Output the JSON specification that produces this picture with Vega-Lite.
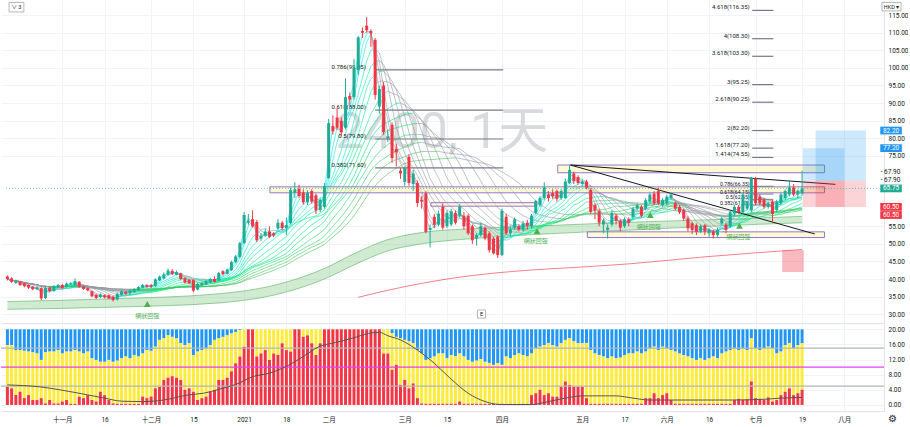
{
"$schema":"https://vega.github.io/schema/vega-lite/v6.json",
"padding":0,
"background":"#ffffff",
"spacing":1,
"bounds":"flush",
"config":{"view":{"stroke":null},"font":"Roboto, Noto Sans CJK TC, sans-serif","axis":{"labelFont":"Roboto, Noto Sans CJK TC, sans-serif","labelFontSize":6.5,"labelColor":"#131722","gridColor":"#f0f3fa","domainColor":"#e0e3eb","ticks":false}},
"datasets":{
"candles":[
{"i":0,"o":40.7,"h":41.0,"l":39.6,"c":40.0,"r":4.8,"b":15.8},
{"i":1,"o":40.2,"h":40.5,"l":38.9,"c":39.2,"r":4.4,"b":15.8},
{"i":2,"o":38.9,"h":39.8,"l":38.6,"c":39.4,"r":2.6,"b":14.5},
{"i":3,"o":39.2,"h":39.5,"l":38.0,"c":38.3,"r":3.5,"b":14.5},
{"i":4,"o":38.8,"h":39.0,"l":37.6,"c":38.0,"r":1.8,"b":14.3},
{"i":5,"o":38.3,"h":38.5,"l":37.2,"c":37.6,"r":2.6,"b":14.1},
{"i":6,"o":37.8,"h":38.0,"l":36.8,"c":37.1,"r":1.3,"b":13.9},
{"i":7,"o":37.1,"h":37.9,"l":36.8,"c":37.6,"r":1.3,"b":13.6},
{"i":8,"o":37.4,"h":37.6,"l":34.0,"c":34.5,"r":1.8,"b":11.9},
{"i":9,"o":34.6,"h":37.8,"l":34.3,"c":37.5,"r":0.4,"b":13.9},
{"i":10,"o":37.5,"h":37.8,"l":36.3,"c":36.6,"r":1.3,"b":14.1},
{"i":11,"o":36.6,"h":38.3,"l":36.4,"c":38.0,"r":0.4,"b":14.1},
{"i":12,"o":37.6,"h":38.6,"l":37.4,"c":38.3,"r":0.4,"b":14.5},
{"i":13,"o":38.3,"h":38.6,"l":37.2,"c":37.5,"r":0.9,"b":13.6},
{"i":14,"o":37.8,"h":39.0,"l":37.6,"c":38.7,"r":1.3,"b":14.1},
{"i":15,"o":38.5,"h":39.1,"l":38.3,"c":38.8,"r":0.3,"b":14.1},
{"i":16,"o":38.2,"h":40.2,"l":38.0,"c":39.4,"r":0.3,"b":14.5},
{"i":17,"o":39.2,"h":39.4,"l":37.5,"c":37.8,"r":2.2,"b":14.1},
{"i":18,"o":37.9,"h":38.1,"l":36.9,"c":37.2,"r":1.8,"b":13.6},
{"i":19,"o":37.4,"h":37.6,"l":36.5,"c":36.8,"r":2.6,"b":14.1},
{"i":20,"o":36.5,"h":36.7,"l":34.8,"c":35.1,"r":1.3,"b":12.3},
{"i":21,"o":35.5,"h":35.7,"l":34.3,"c":34.6,"r":0.9,"b":11.9},
{"i":22,"o":34.9,"h":35.9,"l":34.6,"c":35.6,"r":3.5,"b":11.4},
{"i":23,"o":35.4,"h":35.6,"l":34.5,"c":34.8,"r":2.6,"b":11.4},
{"i":24,"o":35.4,"h":35.6,"l":34.2,"c":34.5,"r":1.3,"b":11.9},
{"i":25,"o":35.0,"h":35.2,"l":33.6,"c":34.0,"r":0.4,"b":11.4},
{"i":26,"o":34.2,"h":36.0,"l":33.9,"c":35.8,"r":0.3,"b":11.7},
{"i":27,"o":35.5,"h":36.8,"l":35.3,"c":36.5,"r":0.3,"b":12.3},
{"i":28,"o":36.4,"h":36.6,"l":35.5,"c":35.8,"r":0.3,"b":12.8},
{"i":29,"o":35.9,"h":37.0,"l":35.7,"c":36.7,"r":0.3,"b":12.3},
{"i":30,"o":36.3,"h":37.4,"l":36.1,"c":37.1,"r":0.3,"b":13.2},
{"i":31,"o":36.8,"h":38.0,"l":36.6,"c":37.7,"r":0.3,"b":12.8},
{"i":32,"o":37.5,"h":38.6,"l":37.3,"c":38.3,"r":2.2,"b":13.6},
{"i":33,"o":38.3,"h":38.5,"l":37.5,"c":37.8,"r":1.8,"b":14.5},
{"i":34,"o":38.3,"h":38.6,"l":37.5,"c":37.8,"r":2.2,"b":14.3},
{"i":35,"o":38.0,"h":40.2,"l":37.8,"c":39.9,"r":4.4,"b":15.4},
{"i":36,"o":39.6,"h":41.0,"l":39.4,"c":40.7,"r":4.8,"b":17.2},
{"i":37,"o":40.2,"h":41.9,"l":40.0,"c":41.3,"r":6.6,"b":17.6},
{"i":38,"o":41.2,"h":43.0,"l":41.0,"c":42.4,"r":7.2,"b":18.4},
{"i":39,"o":42.3,"h":42.8,"l":41.1,"c":41.4,"r":7.6,"b":18.0},
{"i":40,"o":41.2,"h":42.4,"l":41.0,"c":42.0,"r":7.2,"b":17.6},
{"i":41,"o":41.6,"h":41.8,"l":39.7,"c":40.0,"r":6.6,"b":16.3},
{"i":42,"o":40.2,"h":40.5,"l":38.7,"c":39.0,"r":4.0,"b":15.8},
{"i":43,"o":39.8,"h":40.0,"l":38.5,"c":38.8,"r":4.4,"b":16.3},
{"i":44,"o":39.7,"h":40.0,"l":36.2,"c":36.7,"r":3.5,"b":13.2},
{"i":45,"o":37.0,"h":38.9,"l":36.8,"c":38.6,"r":1.3,"b":14.1},
{"i":46,"o":38.3,"h":39.2,"l":38.0,"c":38.9,"r":1.8,"b":14.5},
{"i":47,"o":38.5,"h":39.7,"l":38.3,"c":39.4,"r":2.2,"b":15.0},
{"i":48,"o":39.0,"h":40.3,"l":38.8,"c":40.0,"r":3.5,"b":15.8},
{"i":49,"o":40.0,"h":40.8,"l":39.0,"c":39.2,"r":4.0,"b":17.2},
{"i":50,"o":39.6,"h":42.0,"l":39.4,"c":41.7,"r":6.6,"b":17.6},
{"i":51,"o":42.2,"h":42.5,"l":41.0,"c":41.4,"r":6.6,"b":18.0},
{"i":52,"o":41.5,"h":43.0,"l":41.3,"c":42.7,"r":7.2,"b":18.4},
{"i":53,"o":42.5,"h":45.2,"l":42.3,"c":44.8,"r":8.9,"b":18.9},
{"i":54,"o":44.8,"h":46.8,"l":44.5,"c":46.4,"r":11.0,"b":19.3},
{"i":55,"o":46.3,"h":50.6,"l":46.0,"c":50.2,"r":12.8,"b":19.8},
{"i":56,"o":50.2,"h":59.0,"l":50.0,"c":58.2,"r":15.4,"b":20},
{"i":57,"o":56.0,"h":58.5,"l":55.4,"c":56.6,"r":20,"b":20},
{"i":58,"o":57.0,"h":59.5,"l":54.6,"c":55.0,"r":20,"b":20},
{"i":59,"o":56.2,"h":56.8,"l":50.5,"c":51.0,"r":12.8,"b":20},
{"i":60,"o":51.5,"h":53.0,"l":50.8,"c":52.3,"r":13.6,"b":20},
{"i":61,"o":52.3,"h":54.2,"l":52.0,"c":53.5,"r":14.5,"b":20},
{"i":62,"o":53.5,"h":55.0,"l":51.6,"c":52.0,"r":11.9,"b":20},
{"i":63,"o":53.0,"h":53.3,"l":51.9,"c":52.4,"r":13.6,"b":20},
{"i":64,"o":54.4,"h":57.0,"l":54.0,"c":56.0,"r":13.2,"b":20},
{"i":65,"o":56.0,"h":56.5,"l":53.8,"c":54.5,"r":16.3,"b":20},
{"i":66,"o":54.5,"h":57.5,"l":52.5,"c":55.3,"r":14.5,"b":20},
{"i":67,"o":55.9,"h":66.0,"l":55.5,"c":65.3,"r":14.1,"b":20},
{"i":68,"o":64.5,"h":67.5,"l":63.0,"c":65.5,"r":20,"b":20},
{"i":69,"o":65.6,"h":66.8,"l":63.0,"c":63.6,"r":20,"b":20},
{"i":70,"o":64.6,"h":65.5,"l":61.2,"c":61.8,"r":18.0,"b":20},
{"i":71,"o":61.8,"h":65.2,"l":61.0,"c":64.5,"r":18.4,"b":20},
{"i":72,"o":65.0,"h":65.5,"l":61.5,"c":62.0,"r":16.3,"b":20},
{"i":73,"o":63.8,"h":64.3,"l":58.5,"c":59.5,"r":13.2,"b":20},
{"i":74,"o":59.6,"h":63.0,"l":59.0,"c":62.5,"r":16.3,"b":20},
{"i":75,"o":60.5,"h":67.3,"l":60.0,"c":66.4,"r":20,"b":20},
{"i":76,"o":68.7,"h":85.5,"l":68.5,"c":84.3,"r":20,"b":20},
{"i":77,"o":83.5,"h":86.5,"l":81.0,"c":82.0,"r":20,"b":20},
{"i":78,"o":85.9,"h":88.5,"l":82.5,"c":83.0,"r":20,"b":20},
{"i":79,"o":85.0,"h":86.0,"l":80.5,"c":81.7,"r":20,"b":20},
{"i":80,"o":83.0,"h":97.0,"l":82.5,"c":91.7,"r":20,"b":20},
{"i":81,"o":92.0,"h":93.0,"l":89.5,"c":91.0,"r":20,"b":20},
{"i":82,"o":91.7,"h":102.5,"l":91.0,"c":100.0,"r":20,"b":20},
{"i":83,"o":99.4,"h":109.0,"l":98.0,"c":108.7,"r":20,"b":20},
{"i":84,"o":110.5,"h":111.5,"l":108.5,"c":110.0,"r":20,"b":20},
{"i":85,"o":112.0,"h":114.4,"l":110.0,"c":110.7,"r":20,"b":20},
{"i":86,"o":110.5,"h":111.0,"l":106.0,"c":109.8,"r":20,"b":20},
{"i":87,"o":108.0,"h":108.5,"l":91.0,"c":92.3,"r":20,"b":20},
{"i":88,"o":89.0,"h":95.0,"l":87.0,"c":94.0,"r":20,"b":20},
{"i":89,"o":95.0,"h":96.0,"l":81.0,"c":81.8,"r":13.6,"b":20},
{"i":90,"o":80.0,"h":82.5,"l":79.0,"c":80.5,"r":13.6,"b":20},
{"i":91,"o":83.8,"h":84.5,"l":73.0,"c":74.4,"r":9.3,"b":19.0},
{"i":92,"o":77.0,"h":78.5,"l":72.0,"c":76.0,"r":10.6,"b":18.0},
{"i":93,"o":70.8,"h":71.5,"l":68.5,"c":70.0,"r":5.3,"b":17.6},
{"i":94,"o":67.6,"h":72.0,"l":66.5,"c":71.5,"r":6.6,"b":17.2},
{"i":95,"o":74.7,"h":75.5,"l":66.5,"c":67.3,"r":4.4,"b":16.8},
{"i":96,"o":67.0,"h":71.0,"l":65.0,"c":70.0,"r":5.7,"b":16.3},
{"i":97,"o":67.3,"h":68.0,"l":60.5,"c":61.6,"r":1.8,"b":14.5},
{"i":98,"o":62.5,"h":63.5,"l":60.0,"c":62.0,"r":0.4,"b":13.6},
{"i":99,"o":64.4,"h":65.0,"l":53.0,"c":53.4,"r":0.3,"b":11.9},
{"i":100,"o":54.0,"h":55.5,"l":49.0,"c":54.5,"r":0.3,"b":12.3},
{"i":101,"o":57.7,"h":58.5,"l":54.5,"c":55.4,"r":0.3,"b":12.8},
{"i":102,"o":55.5,"h":59.5,"l":55.0,"c":58.6,"r":0.3,"b":13.6},
{"i":103,"o":60.5,"h":61.5,"l":54.0,"c":54.6,"r":0.3,"b":13.6},
{"i":104,"o":55.0,"h":59.5,"l":54.5,"c":58.8,"r":0.3,"b":12.3},
{"i":105,"o":55.5,"h":60.0,"l":55.0,"c":59.3,"r":0.3,"b":13.2},
{"i":106,"o":58.8,"h":59.5,"l":55.5,"c":56.0,"r":0.3,"b":12.9},
{"i":107,"o":58.0,"h":61.3,"l":57.5,"c":60.6,"r":0.9,"b":13.6},
{"i":108,"o":58.0,"h":59.0,"l":54.0,"c":55.0,"r":0.3,"b":12.8},
{"i":109,"o":58.0,"h":58.5,"l":52.5,"c":53.0,"r":0.3,"b":11.9},
{"i":110,"o":55.0,"h":55.5,"l":50.0,"c":51.0,"r":0.3,"b":11.4},
{"i":111,"o":51.5,"h":53.0,"l":49.5,"c":52.5,"r":0.3,"b":11.7},
{"i":112,"o":52.5,"h":56.0,"l":52.0,"c":55.0,"r":0.3,"b":12.1},
{"i":113,"o":54.6,"h":55.0,"l":51.0,"c":51.5,"r":0.3,"b":11.4},
{"i":114,"o":53.0,"h":53.5,"l":47.5,"c":48.2,"r":0.3,"b":11.1},
{"i":115,"o":51.5,"h":52.0,"l":47.0,"c":47.3,"r":0.3,"b":10.6},
{"i":116,"o":52.0,"h":52.5,"l":46.0,"c":46.8,"r":0.3,"b":11.0},
{"i":117,"o":46.8,"h":60.0,"l":46.5,"c":59.4,"r":0.3,"b":10.6},
{"i":118,"o":57.7,"h":58.5,"l":52.5,"c":53.0,"r":0.3,"b":12.8},
{"i":119,"o":53.0,"h":55.0,"l":52.0,"c":54.0,"r":0.3,"b":12.3},
{"i":120,"o":54.6,"h":57.5,"l":54.0,"c":57.0,"r":0.3,"b":13.2},
{"i":121,"o":55.0,"h":55.5,"l":53.5,"c":54.0,"r":0.3,"b":13.6},
{"i":122,"o":54.0,"h":56.5,"l":53.5,"c":55.8,"r":0.3,"b":13.2},
{"i":123,"o":56.0,"h":56.8,"l":54.0,"c":55.2,"r":0.3,"b":12.8},
{"i":124,"o":55.0,"h":58.5,"l":54.5,"c":58.0,"r":2.6,"b":13.6},
{"i":125,"o":58.8,"h":62.5,"l":58.5,"c":62.2,"r":3.1,"b":15.0},
{"i":126,"o":61.0,"h":63.5,"l":60.5,"c":63.0,"r":4.0,"b":15.4},
{"i":127,"o":63.0,"h":67.5,"l":62.5,"c":66.0,"r":2.6,"b":15.8},
{"i":128,"o":64.0,"h":65.0,"l":62.0,"c":63.0,"r":3.1,"b":16.3},
{"i":129,"o":64.5,"h":65.5,"l":62.8,"c":63.5,"r":2.2,"b":15.8},
{"i":130,"o":65.0,"h":65.5,"l":62.0,"c":62.8,"r":2.2,"b":15.4},
{"i":131,"o":63.0,"h":65.5,"l":62.5,"c":65.0,"r":4.8,"b":16.3},
{"i":132,"o":63.0,"h":68.5,"l":62.8,"c":67.7,"r":6.2,"b":17.2},
{"i":133,"o":67.3,"h":72.3,"l":67.0,"c":71.0,"r":5.3,"b":17.6},
{"i":134,"o":70.0,"h":70.5,"l":67.0,"c":67.8,"r":4.8,"b":16.8},
{"i":135,"o":69.0,"h":69.5,"l":66.8,"c":67.3,"r":4.8,"b":16.3},
{"i":136,"o":67.0,"h":68.3,"l":66.5,"c":67.7,"r":4.8,"b":16.3},
{"i":137,"o":67.7,"h":68.2,"l":65.5,"c":66.0,"r":1.8,"b":16.3},
{"i":138,"o":65.3,"h":65.8,"l":58.5,"c":59.1,"r":0.3,"b":14.5},
{"i":139,"o":61.0,"h":61.5,"l":57.0,"c":59.5,"r":0.3,"b":13.6},
{"i":140,"o":59.3,"h":60.0,"l":55.0,"c":56.0,"r":0.3,"b":13.2},
{"i":141,"o":55.5,"h":57.2,"l":53.0,"c":56.6,"r":0.3,"b":12.8},
{"i":142,"o":54.0,"h":55.5,"l":51.5,"c":54.6,"r":0.3,"b":12.3},
{"i":143,"o":55.5,"h":59.5,"l":55.0,"c":58.8,"r":0.3,"b":12.8},
{"i":144,"o":58.0,"h":58.5,"l":55.5,"c":56.6,"r":0.3,"b":12.3},
{"i":145,"o":56.6,"h":57.0,"l":53.5,"c":54.6,"r":0.3,"b":12.5},
{"i":146,"o":55.0,"h":57.5,"l":54.5,"c":57.0,"r":0.3,"b":13.2},
{"i":147,"o":57.0,"h":57.5,"l":55.0,"c":56.0,"r":0.3,"b":13.6},
{"i":148,"o":57.7,"h":60.5,"l":57.0,"c":60.0,"r":0.3,"b":13.6},
{"i":149,"o":60.0,"h":61.5,"l":59.5,"c":61.0,"r":0.3,"b":14.1},
{"i":150,"o":60.5,"h":61.0,"l":57.5,"c":58.0,"r":0.3,"b":13.6},
{"i":151,"o":60.0,"h":63.0,"l":59.5,"c":62.4,"r":1.8,"b":14.1},
{"i":152,"o":62.0,"h":64.5,"l":61.5,"c":64.0,"r":1.8,"b":15.0},
{"i":153,"o":64.3,"h":65.0,"l":61.0,"c":61.5,"r":3.1,"b":15.4},
{"i":154,"o":65.0,"h":66.0,"l":61.0,"c":61.5,"r":1.8,"b":14.5},
{"i":155,"o":61.0,"h":63.0,"l":60.5,"c":62.5,"r":2.6,"b":15.4},
{"i":156,"o":61.5,"h":64.0,"l":61.0,"c":63.4,"r":3.1,"b":15.0},
{"i":157,"o":63.0,"h":64.5,"l":62.5,"c":64.0,"r":1.3,"b":14.5},
{"i":158,"o":61.5,"h":62.0,"l":59.5,"c":60.0,"r":0.3,"b":14.1},
{"i":159,"o":60.5,"h":61.0,"l":58.5,"c":59.0,"r":0.3,"b":13.6},
{"i":160,"o":59.6,"h":60.0,"l":56.5,"c":57.2,"r":0.3,"b":13.2},
{"i":161,"o":57.2,"h":57.8,"l":53.5,"c":54.4,"r":0.3,"b":12.8},
{"i":162,"o":55.8,"h":56.2,"l":52.8,"c":53.9,"r":0.3,"b":12.3},
{"i":163,"o":55.3,"h":55.8,"l":52.5,"c":53.4,"r":0.3,"b":11.9},
{"i":164,"o":53.5,"h":55.5,"l":53.0,"c":55.0,"r":0.3,"b":12.3},
{"i":165,"o":55.3,"h":55.6,"l":52.5,"c":53.5,"r":0.3,"b":11.9},
{"i":166,"o":53.0,"h":54.5,"l":52.0,"c":54.0,"r":0.3,"b":12.3},
{"i":167,"o":53.5,"h":54.0,"l":51.5,"c":52.5,"r":0.3,"b":12.8},
{"i":168,"o":52.5,"h":54.5,"l":52.0,"c":54.0,"r":0.3,"b":12.3},
{"i":169,"o":55.8,"h":57.6,"l":55.5,"c":57.2,"r":0.3,"b":13.6},
{"i":170,"o":55.5,"h":56.0,"l":53.0,"c":54.0,"r":0.3,"b":14.1},
{"i":171,"o":55.0,"h":59.5,"l":54.5,"c":59.0,"r":0.3,"b":14.5},
{"i":172,"o":58.6,"h":61.0,"l":58.0,"c":60.5,"r":1.3,"b":15.0},
{"i":173,"o":60.5,"h":61.0,"l":58.5,"c":59.0,"r":1.6,"b":14.5},
{"i":174,"o":59.0,"h":64.5,"l":58.5,"c":64.0,"r":1.3,"b":15.0},
{"i":175,"o":60.0,"h":62.0,"l":59.5,"c":61.5,"r":1.5,"b":14.5},
{"i":176,"o":59.5,"h":69.0,"l":59.0,"c":68.6,"r":6.2,"b":17.6},
{"i":177,"o":68.6,"h":69.0,"l":61.0,"c":61.5,"r":1.8,"b":15.0},
{"i":178,"o":63.4,"h":64.0,"l":61.0,"c":61.5,"r":1.6,"b":14.5},
{"i":179,"o":62.5,"h":63.0,"l":60.0,"c":60.5,"r":1.3,"b":15.0},
{"i":180,"o":60.5,"h":62.0,"l":60.0,"c":61.5,"r":2.0,"b":15.4},
{"i":181,"o":62.0,"h":62.5,"l":56.0,"c":58.5,"r":0.9,"b":15.0},
{"i":182,"o":59.6,"h":62.5,"l":59.0,"c":62.0,"r":1.3,"b":13.6},
{"i":183,"o":61.6,"h":64.5,"l":61.0,"c":64.0,"r":2.6,"b":14.1},
{"i":184,"o":63.0,"h":65.5,"l":62.5,"c":65.0,"r":3.5,"b":15.8},
{"i":185,"o":64.0,"h":68.0,"l":63.5,"c":66.0,"r":4.4,"b":16.3},
{"i":186,"o":66.0,"h":67.0,"l":63.5,"c":64.0,"r":2.6,"b":15.0},
{"i":187,"o":64.0,"h":65.5,"l":63.0,"c":65.0,"r":3.1,"b":15.8},
{"i":188,"o":64.3,"h":70.8,"l":63.8,"c":65.75,"r":4.0,"b":16.3}
],
"band":[{"i":0,"lo":31.4,"hi":33.6},{"i":25,"lo":32.0,"hi":34.4},{"i":50,"lo":33.2,"hi":35.8},{"i":65,"lo":36.0,"hi":38.8},{"i":75,"lo":40.0,"hi":43.0},{"i":82,"lo":44.0,"hi":47.2},{"i":90,"lo":48.0,"hi":51.2},{"i":98,"lo":50.0,"hi":53.2},{"i":110,"lo":51.5,"hi":54.3},{"i":124,"lo":52.6,"hi":55.0},{"i":149,"lo":54.0,"hi":56.2},{"i":170,"lo":55.2,"hi":57.0},{"i":188,"lo":56.0,"hi":57.8}],
"redline":[{"i":83,"p":34.8},{"i":90,"p":36.8},{"i":100,"p":39.2},{"i":110,"p":41.0},{"i":120,"p":42.2},{"i":137,"p":43.5},{"i":147,"p":44.3},{"i":165,"p":46.3},{"i":188,"p":48.4}],
"kline":[{"i":0,"v":5.3},{"i":7.5,"v":4.8},{"i":15,"v":3.5},{"i":23,"v":1.8},{"i":27,"v":1.0},{"i":32,"v":0.9},{"i":37,"v":1.3},{"i":42.5,"v":2.6},{"i":46.4,"v":3.1},{"i":50.3,"v":4.2},{"i":54.2,"v":5.5},{"i":58.1,"v":7.5},{"i":62,"v":8.4},{"i":66,"v":10.2},{"i":70,"v":12.8},{"i":73.7,"v":15.4},{"i":77.6,"v":16.5},{"i":81.5,"v":17.6},{"i":85.4,"v":18.9},{"i":88,"v":19.2},{"i":90,"v":18.3},{"i":93,"v":17.2},{"i":97,"v":14.5},{"i":101,"v":11.0},{"i":105,"v":6.8},{"i":109,"v":3.1},{"i":113,"v":0.9},{"i":117,"v":0.1},{"i":124,"v":0.1},{"i":128,"v":0.9},{"i":132,"v":1.8},{"i":136,"v":2.4},{"i":144,"v":2.4},{"i":148,"v":1.8},{"i":152,"v":1.3},{"i":171,"v":1.3},{"i":179,"v":1.5},{"i":183,"v":1.8},{"i":188,"v":2.0}],
"fib":[
{"x1":87,"x2":117.3,"tx":84.8,"p":99.45,"t":"0.786(99.45)"},
{"x1":87,"x2":117.3,"tx":84.8,"p":88.0,"t":"0.618(88.00)"},
{"x1":87,"x2":117.3,"tx":84.8,"p":79.8,"t":"0.5(79.80)"},
{"x1":87,"x2":117.3,"tx":84.8,"p":71.6,"t":"0.382(71.60)"},
{"x1":176.2,"x2":181.2,"tx":175.6,"p":116.35,"t":"4.618(116.35)"},
{"x1":176.2,"x2":181.2,"tx":175.6,"p":108.3,"t":"4(108.30)"},
{"x1":176.2,"x2":181.2,"tx":175.6,"p":103.3,"t":"3.618(103.30)"},
{"x1":176.2,"x2":181.2,"tx":175.6,"p":95.25,"t":"3(95.25)"},
{"x1":176.2,"x2":181.2,"tx":175.6,"p":90.25,"t":"2.618(90.25)"},
{"x1":176.2,"x2":181.2,"tx":175.6,"p":82.2,"t":"2(82.20)"},
{"x1":176.2,"x2":181.2,"tx":175.6,"p":77.2,"t":"1.618(77.20)"},
{"x1":176.2,"x2":181.2,"tx":175.6,"p":74.55,"t":"1.414(74.55)"}
],
"fib2":[
{"x1":176.2,"x2":181.2,"tx":175.6,"p":66.35,"t":"0.786(66.35)"},
{"x1":176.2,"x2":181.2,"tx":175.6,"p":64.15,"t":"0.618(64.15)"},
{"x1":176.2,"x2":181.2,"tx":175.6,"p":62.65,"t":"0.5(62.65)"},
{"x1":176.2,"x2":181.2,"tx":175.6,"p":61.05,"t":"0.382(61.05)"}
],
"trend":[{"x1":133.2,"y1":72.4,"x2":191.0,"y2":52.8},{"x1":133.2,"y1":72.4,"x2":195.9,"y2":66.9}],
"boxes":[{"x1":62.1,"x2":193.3,"y1":64.5,"y2":66.2},{"x1":130.2,"x2":193.3,"y1":70.2,"y2":72.4},{"x1":137.2,"x2":193.3,"y1":51.8,"y2":53.4},{"x1":100.2,"x2":124.8,"y1":60.7,"y2":61.7}],
"pos":[{"x1":188.2,"x2":198.0,"y1":67.9,"y2":77.2,"k":"b"},{"x1":188.2,"x2":198.0,"y1":60.5,"y2":67.9,"k":"r"},{"x1":191.2,"x2":203.1,"y1":67.9,"y2":82.2,"k":"b"},{"x1":191.2,"x2":203.1,"y1":60.5,"y2":67.9,"k":"r"}],
"zones":[{"x1":183.3,"x2":188.4,"y1":42.0,"y2":48.2}],
"frames":[{"x1":111.2,"x2":113.1,"y1":28.9,"y2":31.2},{"x1":0.4,"x2":3.9,"y1":115.9,"y2":118.6},{"x1":206.9,"x2":211.4,"y1":116.2,"y2":118.6}],
"labels":[{"i":112.15,"p":30.05,"t":"E"},{"i":2.15,"p":117.25,"t":"∨ 3"},{"i":209.15,"p":117.4,"t":"HKD ▾"}],
"pline":[{"x1":-0.33,"x2":206.2,"p":65.75}],
"wm":[{"i":102.8,"p":81.5,"t":"2400, 1天"}],
"marks":[{"i":33.1,"p":32.9},{"i":125.3,"p":53.6},{"i":152.1,"p":58.2},{"i":173.2,"p":55.1}],
"notes":[{"i":33.1,"p":29.5,"t":"網狀回彈"},{"i":125.0,"p":50.9,"t":"網狀回彈"},{"i":151.7,"p":54.9,"t":"網狀回彈"},{"i":172.9,"p":51.9,"t":"網狀回彈"}],
"tags":[{"x1":206.5,"x2":211.6,"xm":209.05,"p":82.2,"lo":81.1,"hi":83.3,"t":"82.20","k":"b"},{"x1":206.5,"x2":211.6,"xm":209.05,"p":77.2,"lo":76.1,"hi":78.3,"t":"77.20","k":"b"},{"x1":206.5,"x2":211.6,"xm":209.05,"p":65.75,"lo":64.65,"hi":66.85,"t":"65.75","k":"g"},{"x1":206.5,"x2":211.6,"xm":209.05,"p":60.5,"lo":59.4,"hi":61.6,"t":"60.50","k":"r"},{"x1":206.5,"x2":211.6,"xm":209.05,"p":58.2,"lo":57.1,"hi":59.3,"t":"60.50","k":"r"}],
"ptags":[{"x":206.6,"p":70.4,"t":"- 67.90"},{"x":206.6,"p":68.1,"t":"- 67.90"}],
"levels":[{"v":15,"k":"g"},{"v":10,"k":"m"},{"v":5,"k":"g"}],
"gear":[{"i":209.3,"v":-3.6,"t":"⚙"}]
},
"vconcat":[
{
"width":883,"height":323,
"resolve":{"axis":{"x":"independent","y":"independent"}},
"layer":[
{"data":{"name":"band"},"mark":{"type":"area","interpolate":"monotone","color":"#66bb6a","opacity":0.3},
 "encoding":{
  "x":{"field":"i","type":"quantitative","scale":{"domain":[-0.33,206.2],"nice":false,"zero":false},"axis":{"values":[13,23,34,44,56,66,76,94,104,117,136,146,156,166,177,188,198],"labels":false,"ticks":false,"grid":true,"domain":true,"title":null}},
  "y":{"field":"lo","type":"quantitative","scale":{"domain":[27.5,119.3],"nice":false,"zero":false},"axis":{"orient":"right","values":[30,35,40,45,50,55,75,80,85,90,95,100,105,110,115],"format":".2f","grid":true,"labelPadding":4,"title":null}},
  "y2":{"field":"hi"}}},
{"data":{"name":"band"},"mark":{"type":"line","interpolate":"monotone","color":"#4caf50","strokeWidth":0.8,"opacity":0.7},
 "encoding":{"x":{"field":"i","type":"quantitative","axis":null},"y":{"field":"lo","type":"quantitative","axis":null}}},
{"data":{"name":"band"},"mark":{"type":"line","interpolate":"monotone","color":"#4caf50","strokeWidth":0.8,"opacity":0.7},
 "encoding":{"x":{"field":"i","type":"quantitative","axis":null},"y":{"field":"hi","type":"quantitative","axis":null}}},
{"data":{"name":"wm"},"mark":{"type":"text","fontSize":50,"color":"#b9bcc4","opacity":0.55,"align":"center","baseline":"middle"},
 "encoding":{"x":{"field":"i","type":"quantitative","axis":null},"y":{"field":"p","type":"quantitative","axis":null},"text":{"field":"t"}}},
{"data":{"name":"redline"},"mark":{"type":"line","interpolate":"monotone","color":"#f23645","strokeWidth":0.8,"opacity":0.8},
 "encoding":{"x":{"field":"i","type":"quantitative","axis":null},"y":{"field":"p","type":"quantitative","axis":null}}},
{"data":{"name":"zones"},"mark":{"type":"rect","color":"#f23645","opacity":0.35},
 "encoding":{"x":{"field":"x1","type":"quantitative","axis":null},"x2":{"field":"x2"},"y":{"field":"y1","type":"quantitative","axis":null},"y2":{"field":"y2"}}},
{"data":{"name":"candles"},
 "transform":[
  {"window":[{"op":"mean","field":"c","as":"a02"}],"frame":[-1,0],"sort":[{"field":"i"}]},
  {"window":[{"op":"mean","field":"c","as":"a03"}],"frame":[-2,0],"sort":[{"field":"i"}]},
  {"window":[{"op":"mean","field":"c","as":"a04"}],"frame":[-3,0],"sort":[{"field":"i"}]},
  {"window":[{"op":"mean","field":"c","as":"a06"}],"frame":[-5,0],"sort":[{"field":"i"}]},
  {"window":[{"op":"mean","field":"c","as":"a08"}],"frame":[-7,0],"sort":[{"field":"i"}]},
  {"window":[{"op":"mean","field":"c","as":"a10"}],"frame":[-9,0],"sort":[{"field":"i"}]},
  {"window":[{"op":"mean","field":"c","as":"a12"}],"frame":[-11,0],"sort":[{"field":"i"}]},
  {"window":[{"op":"mean","field":"c","as":"a15"}],"frame":[-14,0],"sort":[{"field":"i"}]},
  {"window":[{"op":"mean","field":"c","as":"a18"}],"frame":[-17,0],"sort":[{"field":"i"}]},
  {"window":[{"op":"mean","field":"c","as":"a21"}],"frame":[-20,0],"sort":[{"field":"i"}]},
  {"window":[{"op":"mean","field":"c","as":"a24"}],"frame":[-23,0],"sort":[{"field":"i"}]},
  {"window":[{"op":"mean","field":"c","as":"a28"}],"frame":[-27,0],"sort":[{"field":"i"}]},
  {"window":[{"op":"mean","field":"c","as":"a32"}],"frame":[-31,0],"sort":[{"field":"i"}]},
  {"window":[{"op":"mean","field":"c","as":"a36"}],"frame":[-35,0],"sort":[{"field":"i"}]},
  {"window":[{"op":"mean","field":"c","as":"a40"}],"frame":[-39,0],"sort":[{"field":"i"}]},
  {"fold":["a02","a03","a04","a06","a08","a10","a12","a15","a18","a21","a24","a28","a32","a36","a40"],"as":["k","m"]},
  {"window":[{"op":"lag","field":"m","as":"m0"},{"op":"lag","field":"i","as":"i0"}],"groupby":["k"],"sort":[{"field":"i"}]},
  {"filter":"datum.i0 != null"}
 ],
 "mark":{"type":"rule","strokeWidth":0.7,"opacity":0.85},
 "encoding":{
  "x":{"field":"i0","type":"quantitative","axis":null},"x2":{"field":"i"},
  "y":{"field":"m0","type":"quantitative","axis":null},"y2":{"field":"m"},
  "color":{"condition":{"test":"datum.m < datum.m0 - 0.01","value":"#9598a1"},"field":"k","type":"nominal","legend":null,
   "scale":{"domain":["a02","a03","a04","a06","a08","a10","a12","a15","a18","a21","a24","a28","a32","a36","a40"],
            "range":["#00e5ff","#00e8f0","#00eae0","#00ebd0","#00ecc0","#00edb0","#00eea0","#00ef90","#00ea85","#00e47a","#10de70","#20d868","#30d060","#3cc85a","#45c055"]}}}},
{"data":{"name":"boxes"},"mark":{"type":"rect","fill":"#fff59d","fillOpacity":0.45,"stroke":"#9575cd","strokeWidth":1},
 "encoding":{"x":{"field":"x1","type":"quantitative","axis":null},"x2":{"field":"x2"},"y":{"field":"y1","type":"quantitative","axis":null},"y2":{"field":"y2"}}},
{"data":{"name":"fib"},"mark":{"type":"rule","color":"#787b86","strokeWidth":1.2},
 "encoding":{"x":{"field":"x1","type":"quantitative","axis":null},"x2":{"field":"x2"},"y":{"field":"p","type":"quantitative","axis":null}}},
{"data":{"name":"fib"},"mark":{"type":"text","align":"right","baseline":"middle","dy":-3,"fontSize":6,"color":"#131722"},
 "encoding":{"x":{"field":"tx","type":"quantitative","axis":null},"y":{"field":"p","type":"quantitative","axis":null},"text":{"field":"t"}}},
{"data":{"name":"fib2"},"mark":{"type":"rule","color":"#787b86","strokeWidth":1},
 "encoding":{"x":{"field":"x1","type":"quantitative","axis":null},"x2":{"field":"x2"},"y":{"field":"p","type":"quantitative","axis":null}}},
{"data":{"name":"fib2"},"mark":{"type":"text","align":"right","baseline":"middle","dy":-2,"fontSize":5.2,"color":"#131722"},
 "encoding":{"x":{"field":"tx","type":"quantitative","axis":null},"y":{"field":"p","type":"quantitative","axis":null},"text":{"field":"t"}}},
{"data":{"name":"trend"},"mark":{"type":"rule","color":"#131722","strokeWidth":1},
 "encoding":{"x":{"field":"x1","type":"quantitative","axis":null},"x2":{"field":"x2"},"y":{"field":"y1","type":"quantitative","axis":null},"y2":{"field":"y2"}}},
{"data":{"name":"pos"},"mark":{"type":"rect","opacity":0.22},
 "encoding":{"x":{"field":"x1","type":"quantitative","axis":null},"x2":{"field":"x2"},"y":{"field":"y1","type":"quantitative","axis":null},"y2":{"field":"y2"},
  "color":{"condition":{"test":"datum.k=='b'","value":"#2196f3"},"value":"#f23645"}}},
{"data":{"name":"candles"},"mark":{"type":"rule","strokeWidth":1},
 "encoding":{"x":{"field":"i","type":"quantitative","axis":null},"y":{"field":"l","type":"quantitative","axis":null},"y2":{"field":"h"},
  "color":{"condition":{"test":"datum.c >= datum.o","value":"#22ab94"},"value":"#f23645"}}},
{"data":{"name":"candles"},"mark":{"type":"bar","width":3},
 "encoding":{"x":{"field":"i","type":"quantitative","axis":null},"y":{"field":"o","type":"quantitative","axis":null},"y2":{"field":"c"},
  "color":{"condition":{"test":"datum.c >= datum.o","value":"#22ab94"},"value":"#f23645"}}},
{"data":{"name":"pline"},"mark":{"type":"rule","color":"#22ab94","opacity":0.6,"strokeDash":[1,2],"strokeWidth":1},
 "encoding":{"x":{"field":"x1","type":"quantitative","axis":null},"x2":{"field":"x2"},"y":{"field":"p","type":"quantitative","axis":null}}},
{"data":{"name":"marks"},"mark":{"type":"point","shape":"triangle-up","filled":true,"color":"#4caf50","opacity":1,"size":45},
 "encoding":{"x":{"field":"i","type":"quantitative","axis":null},"y":{"field":"p","type":"quantitative","axis":null}}},
{"data":{"name":"notes"},"mark":{"type":"text","fontSize":6,"color":"#4caf50","align":"center","baseline":"middle"},
 "encoding":{"x":{"field":"i","type":"quantitative","axis":null},"y":{"field":"p","type":"quantitative","axis":null},"text":{"field":"t"}}},
{"data":{"name":"frames"},"mark":{"type":"rect","fill":"#ffffff","stroke":"#9598a1","strokeWidth":0.7},
 "encoding":{"x":{"field":"x1","type":"quantitative","axis":null},"x2":{"field":"x2"},"y":{"field":"y1","type":"quantitative","axis":null},"y2":{"field":"y2"}}},
{"data":{"name":"labels"},"mark":{"type":"text","fontSize":5.5,"color":"#131722","align":"center","baseline":"middle"},
 "encoding":{"x":{"field":"i","type":"quantitative","axis":null},"y":{"field":"p","type":"quantitative","axis":null},"text":{"field":"t"}}},
{"data":{"name":"tags"},"mark":{"type":"rect"},
 "encoding":{"x":{"field":"x1","type":"quantitative","axis":null},"x2":{"field":"x2"},"y":{"field":"lo","type":"quantitative","axis":null},"y2":{"field":"hi"},
  "color":{"condition":[{"test":"datum.k=='b'","value":"#2196f3"},{"test":"datum.k=='g'","value":"#22ab94"}],"value":"#f23645"}}},
{"data":{"name":"tags"},"mark":{"type":"text","fontSize":6.5,"color":"#ffffff","align":"center","baseline":"middle"},
 "encoding":{"x":{"field":"xm","type":"quantitative","axis":null},"y":{"field":"p","type":"quantitative","axis":null},"text":{"field":"t"}}},
{"data":{"name":"ptags"},"mark":{"type":"text","fontSize":6.5,"color":"#131722","align":"left","baseline":"middle"},
 "encoding":{"x":{"field":"x","type":"quantitative","axis":null},"y":{"field":"p","type":"quantitative","axis":null},"text":{"field":"t"}}}
]
},
{
"width":883,"height":87,
"resolve":{"axis":{"x":"independent","y":"independent"}},
"layer":[
{"data":{"name":"candles"},"transform":[{"joinaggregate":[{"op":"max","field":"b","as":"bmax"}]}],"mark":{"type":"bar","width":3,"color":"#2196f3"},
 "encoding":{
  "x":{"field":"i","type":"quantitative","scale":{"domain":[-0.33,206.2],"nice":false,"zero":false},
   "axis":{"values":[13,23,34,44,56,66,76,94,104,117,136,146,156,166,177,188,198],"ticks":false,"grid":true,"domain":true,"title":null,"labelPadding":5,
    "labelExpr":"datum.value==13?'十一月':datum.value==23?'16':datum.value==34?'十二月':datum.value==44?'15':datum.value==56?'2021':datum.value==66?'18':datum.value==76?'二月':datum.value==94?'三月':datum.value==104?'15':datum.value==117?'四月':datum.value==136?'五月':datum.value==146?'17':datum.value==156?'六月':datum.value==166?'16':datum.value==177?'七月':datum.value==188?'19':datum.value==198?'八月':''"}},
  "y":{"field":"b","type":"quantitative","scale":{"domain":[-1.6,21.4],"nice":false,"zero":false},"axis":{"orient":"right","values":[0,4,8,12,16,20],"format":".2f","grid":true,"labelPadding":4,"title":null}},
  "y2":{"field":"bmax"}}},
{"data":{"name":"candles"},"mark":{"type":"bar","width":3,"color":"#ffeb3b"},
 "encoding":{"x":{"field":"i","type":"quantitative","axis":null},"y":{"field":"r","type":"quantitative","axis":null},"y2":{"field":"b"}}},
{"data":{"name":"candles"},"mark":{"type":"bar","width":3,"color":"#f23645"},
 "encoding":{"x":{"field":"i","type":"quantitative","axis":null},"y":{"field":"r","type":"quantitative","axis":null}}},
{"data":{"name":"levels"},"mark":{"type":"rule","strokeWidth":1.2},
 "encoding":{"y":{"field":"v","type":"quantitative","axis":null},"color":{"condition":{"test":"datum.k=='m'","value":"#e040fb"},"value":"#b2b5be"}}},
{"data":{"name":"kline"},"mark":{"type":"line","interpolate":"monotone","color":"#555555","strokeWidth":1},
 "encoding":{"x":{"field":"i","type":"quantitative","axis":null},"y":{"field":"v","type":"quantitative","axis":null}}},
{"data":{"name":"gear"},"mark":{"type":"text","fontSize":10,"color":"#131722","align":"center","baseline":"middle"},
 "encoding":{"x":{"field":"i","type":"quantitative","axis":null},"y":{"field":"v","type":"quantitative","axis":null},"text":{"field":"t"}}}
]
}
]
}
